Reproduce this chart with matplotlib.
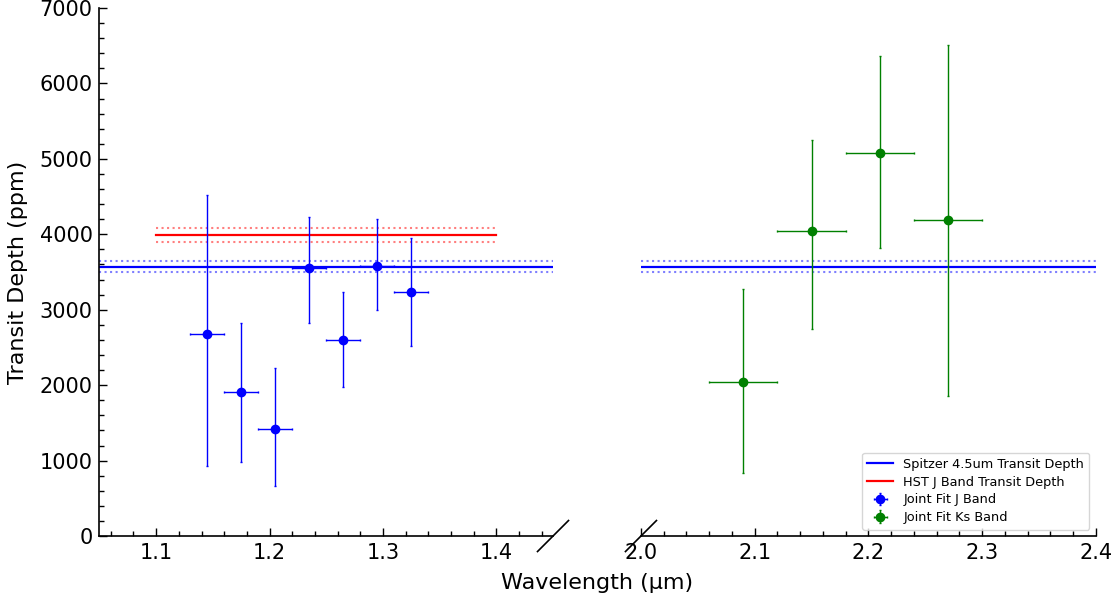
import matplotlib
matplotlib.use("Agg")
import matplotlib.pyplot as plt
from matplotlib.ticker import MultipleLocator

# J band joint-fit transit depths (ppm) with asymmetric uncertainties
j_wave = [1.145, 1.175, 1.205, 1.235, 1.265, 1.295, 1.325]
j_depth = [2680, 1910, 1415, 3560, 2600, 3585, 3240]
j_err_lo = [1750, 930, 755, 740, 630, 590, 725]
j_err_hi = [1840, 915, 815, 665, 630, 615, 710]
j_bin_half = [0.015] * 7

# Ks band joint-fit transit depths (ppm)
ks_wave = [2.09, 2.15, 2.21, 2.27]
ks_depth = [2040, 4050, 5075, 4185]
ks_err_lo = [1210, 1305, 1255, 2325]
ks_err_hi = [1240, 1205, 1285, 2330]
ks_bin_half = [0.03] * 4

# Reference transit depths
spitzer_depth = 3573
spitzer_err = 73
hst_depth = 3990
hst_err = 88
hst_range = [1.1, 1.4]

fig = plt.figure(figsize=(11.19, 6.05), dpi=100)
ax1 = fig.add_axes([0.0889, 0.114, 0.4053, 0.8727])
ax2 = fig.add_axes([0.5728, 0.114, 0.4066, 0.8727])

for ax in (ax1, ax2):
    sp = ax.axhline(spitzer_depth, color="b", lw=1.6,
                    label="Spitzer 4.5um Transit Depth")
    ax.axhline(spitzer_depth + spitzer_err, color="b", lw=1.5, ls=":", alpha=0.5)
    ax.axhline(spitzer_depth - spitzer_err, color="b", lw=1.5, ls=":", alpha=0.5)

hst, = ax1.plot(hst_range, [hst_depth, hst_depth], color="r", lw=1.6,
                label="HST J Band Transit Depth")
ax1.plot(hst_range, [hst_depth + hst_err] * 2, color="r", lw=1.5, ls=":", alpha=0.5)
ax1.plot(hst_range, [hst_depth - hst_err] * 2, color="r", lw=1.5, ls=":", alpha=0.5)

jb = ax1.errorbar(j_wave, j_depth, yerr=[j_err_lo, j_err_hi], xerr=j_bin_half,
                  fmt="o", color="b", ms=6, elinewidth=1, capsize=1, capthick=1,
                  label="Joint Fit J Band")
ksb = ax2.errorbar(ks_wave, ks_depth, yerr=[ks_err_lo, ks_err_hi], xerr=ks_bin_half,
                   fmt="o", color="g", ms=6, elinewidth=1, capsize=1, capthick=1,
                   label="Joint Fit Ks Band")

ax1.set_xlim(1.05, 1.45)
ax2.set_xlim(2.0, 2.4)
for ax in (ax1, ax2):
    ax.set_ylim(0, 7000)
    ax.xaxis.set_major_locator(MultipleLocator(0.1))
    ax.xaxis.set_minor_locator(MultipleLocator(0.02))
    ax.spines["top"].set_visible(False)
    ax.spines["right"].set_visible(False)
    ax.spines["bottom"].set_linewidth(1.2)
    ax.tick_params(axis="both", which="both", direction="in", labelsize=15,
                   pad=5, width=1)
    ax.tick_params(which="major", length=6)
    ax.tick_params(which="minor", length=3.5)

ax1.set_xticks([1.1, 1.2, 1.3, 1.4])
ax1.yaxis.set_major_locator(MultipleLocator(1000))
ax1.yaxis.set_minor_locator(MultipleLocator(200))
ax1.spines["left"].set_linewidth(1.2)

ax2.spines["left"].set_visible(False)
ax2.tick_params(axis="y", which="both", left=False, labelleft=False)

# Diagonal marks for the broken x axis
dx1, dy1 = 15.5 / 453.5, 15.5 / 528
kw = dict(color="k", lw=1.2, clip_on=False)
ax1.plot([1 - dx1, 1 + dx1], [-dy1, dy1], transform=ax1.transAxes, **kw)
dx2 = 15.5 / 455
ax2.plot([-dx2, dx2], [-dy1, dy1], transform=ax2.transAxes, **kw)

ax2.legend(handles=[sp, hst, jb, ksb], loc="lower right", fontsize=9.3,
           labelspacing=0.38)

ax1.set_ylabel("Transit Depth (ppm)", fontsize=16)
ax1.yaxis.set_label_coords(-0.158, 0.5)
fig.text(0.534, 0.036, "Wavelength (\u03bcm)", fontsize=16, ha="center", va="center")

fig.savefig("out.png", dpi=100)
